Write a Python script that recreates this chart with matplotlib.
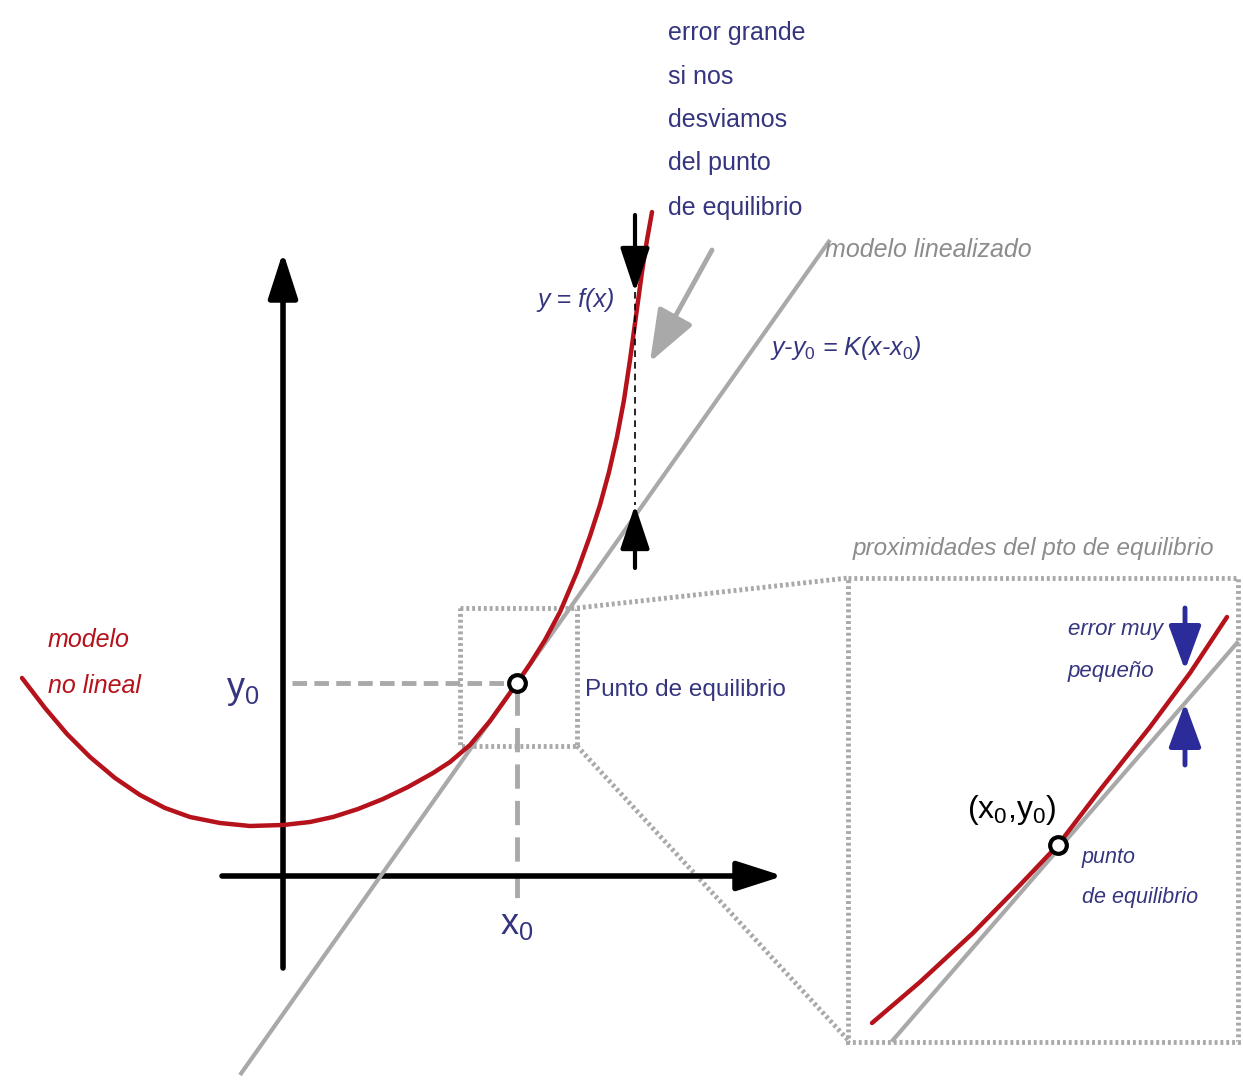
import numpy as np
import matplotlib
matplotlib.use('Agg')
import matplotlib.pyplot as plt
from matplotlib.patches import Rectangle

plt.rcParams['font.family'] = ['Liberation Sans', 'DejaVu Sans']
plt.rcParams['mathtext.fontset'] = 'custom'
plt.rcParams['mathtext.rm'] = 'Liberation Sans'
plt.rcParams['mathtext.it'] = 'Liberation Sans:italic'

# curva no lineal (coordenadas del dibujo, y hacia abajo)
curva_x = [22, 45, 67, 90, 115, 140, 165, 190, 220, 250, 283, 310, 333, 358, 383, 408, 433, 450, 470,
           490, 505, 517, 530, 545, 560, 577, 590, 600, 609, 617, 624, 630, 636, 642, 647, 652]
curva_y = [678, 708, 734, 757, 778, 795, 808, 817, 823, 826, 825, 822, 817, 809, 799, 787, 773, 762, 745,
           721, 700, 683, 664, 640, 612, 572, 536, 505, 472, 437, 400, 360, 316, 272, 240, 212]

# modelo linealizado
recta_x = [240, 830]
recta_y = [1075, 240]

# punto de equilibrio
x0, y0 = 517, 683

# ampliacion
zoom_curva_x = [872, 920, 973, 1020, 1058, 1100, 1150, 1190, 1227]
zoom_curva_y = [1023, 982, 933, 885, 845, 790, 727, 673, 617]
zoom_recta_x = [893, 1237]
zoom_recta_y = [1040, 643]
zoom_punto = (1058, 845)

# textos de varias lineas
lineas_error = ['error grande', 'si nos', 'desviamos', 'del punto', 'de equilibrio']
lineas_error_y = [33, 77, 120, 163, 208]

rojo = '#b5121b'
gris = '#a9a9a9'
gris_txt = '#8c8c8c'
azul = '#35357f'
azul_flecha = '#2b2b9a'

fig = plt.figure(figsize=(12.43, 10.89), dpi=100)
ax = fig.add_axes([0, 0, 1, 1])
ax.set_xlim(0, 1243)
ax.set_ylim(1089, 0)
ax.axis('off')

# ejes
ax.annotate('', xy=(283, 252), xytext=(283, 968),
            arrowprops=dict(arrowstyle='-|>,head_length=1.4,head_width=0.45', lw=4, color='black',
                            mutation_scale=20, shrinkA=0, shrinkB=0))
ax.annotate('', xy=(783, 876), xytext=(222, 876),
            arrowprops=dict(arrowstyle='-|>,head_length=1.4,head_width=0.45', lw=4, color='black',
                            mutation_scale=20, shrinkA=0, shrinkB=0))

# lineas discontinuas al punto
ax.plot([292, x0 - 8], [y0, y0], color=gris, lw=3.5, ls=(0, (3, 1.5)), zorder=2)
ax.plot([x0, x0], [y0 + 8, 905], color=gris, lw=3.5, ls=(0, (5, 2.5)), zorder=2)

# rectangulos punteados
ax.add_patch(Rectangle((460, 608), 117, 138, fill=False, ec=gris, lw=3.5, ls=(0, (0.6, 0.6)), zorder=1))
ax.add_patch(Rectangle((848, 578), 390, 464, fill=False, ec=gris, lw=3.5, ls=(0, (0.6, 0.6)), zorder=1))
ax.plot([577, 848], [608, 578], color=gris, lw=3.5, ls=(0, (0.6, 0.6)), zorder=1)
ax.plot([577, 848], [746, 1040], color=gris, lw=3.5, ls=(0, (0.6, 0.6)), zorder=1)

# recta y curva
ax.plot(recta_x, recta_y, color=gris, lw=3, zorder=3, solid_capstyle='butt')
ax.plot(curva_x, curva_y, color=rojo, lw=3.2, zorder=4, solid_capstyle='round', solid_joinstyle='round')
ax.plot([x0], [y0], 'o', ms=12, mfc='white', mec='black', mew=3, zorder=6)

# error grande
ax.plot([635, 635], [292, 505], color='black', lw=1.2, ls=(0, (4, 3)), zorder=5)
ax.annotate('', xy=(635, 292), xytext=(635, 215),
            arrowprops=dict(arrowstyle='-|>,head_length=1.5,head_width=0.5', lw=3, color='black',
                            mutation_scale=18, shrinkA=0, shrinkB=0), zorder=6)
ax.annotate('', xy=(635, 505), xytext=(635, 568),
            arrowprops=dict(arrowstyle='-|>,head_length=1.5,head_width=0.5', lw=3, color='black',
                            mutation_scale=18, shrinkA=0, shrinkB=0), zorder=6)
ax.annotate('', xy=(650, 362), xytext=(712, 250),
            arrowprops=dict(arrowstyle='-|>,head_length=1.6,head_width=0.6', lw=3.5, color=gris,
                            mutation_scale=20, shrinkA=0, shrinkB=0))

# ampliacion
ax.plot(zoom_recta_x, zoom_recta_y, color=gris, lw=3, zorder=3)
ax.plot(zoom_curva_x, zoom_curva_y, color=rojo, lw=3.2, zorder=4, solid_capstyle='round', solid_joinstyle='round')
ax.plot([zoom_punto[0]], [zoom_punto[1]], 'o', ms=12, mfc='white', mec='black', mew=3, zorder=6)
ax.annotate('', xy=(1185, 670), xytext=(1185, 608),
            arrowprops=dict(arrowstyle='-|>,head_length=1.5,head_width=0.55', lw=3.5, color=azul_flecha,
                            mutation_scale=18, shrinkA=0, shrinkB=0), zorder=6)
ax.annotate('', xy=(1185, 703), xytext=(1185, 765),
            arrowprops=dict(arrowstyle='-|>,head_length=1.5,head_width=0.55', lw=3.5, color=azul_flecha,
                            mutation_scale=18, shrinkA=0, shrinkB=0), zorder=6)

# textos
for t, yy in zip(lineas_error, lineas_error_y):
    ax.text(668, yy, t, color=azul, fontsize=18, va='center', ha='left')
ax.text(825, 250, 'modelo linealizado', color=gris_txt, fontsize=18, style='italic', va='center')
ax.text(537, 300, 'y = f(x)', color=azul, fontsize=18, style='italic', va='center')
ax.text(770, 348, r'y-y$_0$ = K(x-x$_0$)', color=azul, fontsize=18, style='italic', va='center')
ax.text(48, 640, 'modelo', color=rojo, fontsize=18, style='italic', va='center')
ax.text(48, 686, 'no lineal', color=rojo, fontsize=18, style='italic', va='center')
ax.text(243, 690, r'y$_0$', color=azul, fontsize=26, ha='center', va='center')
ax.text(517, 925, r'x$_0$', color=azul, fontsize=26, ha='center', va='center')
ax.text(585, 690, 'Punto de equilibrio', color=azul, fontsize=17.5, va='center')
ax.text(853, 548, 'proximidades del pto de equilibrio', color=gris_txt, fontsize=17.5, style='italic', va='center')
ax.text(1068, 630, 'error muy', color=azul, fontsize=16, style='italic', va='center')
ax.text(1068, 672, 'pequeño', color=azul, fontsize=16, style='italic', va='center')
ax.text(1012, 810, r'(x$_0$,y$_0$)', color='black', fontsize=23, ha='center', va='center')
ax.text(1082, 857, 'punto', color=azul, fontsize=15.5, style='italic', va='center')
ax.text(1082, 897, 'de equilibrio', color=azul, fontsize=15.5, style='italic', va='center')

fig.savefig('out.png', dpi=100)
